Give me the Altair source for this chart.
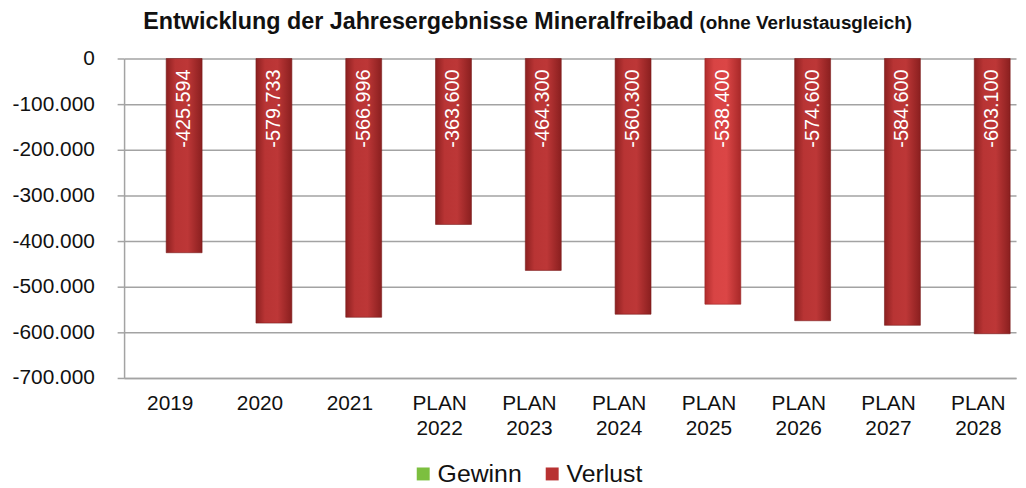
import altair as alt
import pandas as pd

categories = ["2019", "2020", "2021", "PLAN 2022", "PLAN 2023", "PLAN 2024",
              "PLAN 2025", "PLAN 2026", "PLAN 2027", "PLAN 2028"]
values = [-425594, -579733, -566996, -363600, -464300, -560300,
          -538400, -574600, -584600, -603100]
legend_labels = ["Gewinn", "Verlust"]
title_main = "Entwicklung der Jahresergebnisse Mineralfreibad"
title_sub = "(ohne Verlustausgleich)"
highlight = "PLAN 2025"

df = pd.DataFrame({"Jahr": categories, "Wert": values})
FONT = "Liberation Sans"
GRID = "#a3a3a3"

fmt = "(datum.Wert < 0 ? '-' : '') + replace(format(abs(datum.Wert), ',d'), ',', '.')"

x = alt.X("Jahr:N", sort=categories, title=None,
          scale=alt.Scale(paddingInner=0.6, paddingOuter=0.267, align=0.878),
          axis=alt.Axis(labelAngle=0, labelExpr="split(datum.label, ' ')",
                        labelFont=FONT, labelFontSize=21, labelColor="#111111",
                        labelLineHeight=25, labelPadding=15, labelOffset=-14, ticks=False,
                        domain=True, domainColor=GRID, domainWidth=1.5))
y = alt.Y("Wert:Q", title=None,
          scale=alt.Scale(domain=[-700000, 0], nice=False),
          axis=alt.Axis(values=[0, -100000, -200000, -300000, -400000, -500000, -600000, -700000],
                        labelExpr="(datum.value < 0 ? '-' : '') + replace(format(abs(datum.value), ',d'), ',', '.')",
                        labelFont=FONT, labelFontSize=21, labelColor="#111111",
                        labelPadding=23, tickSize=7, tickColor=GRID, tickWidth=1.5,
                        domainColor=GRID, domainWidth=1.5,
                        grid=True, gridColor=GRID, gridWidth=1.5))

dark_grad = alt.Gradient(gradient="linear", x1=0, x2=1, y1=0, y2=0, stops=[
    alt.GradientStop(color="#8c2020", offset=0),
    alt.GradientStop(color="#b83434", offset=0.25),
    alt.GradientStop(color="#bd3737", offset=0.6),
    alt.GradientStop(color="#8a1f1f", offset=1)])
light_grad = alt.Gradient(gradient="linear", x1=0, x2=1, y1=0, y2=0, stops=[
    alt.GradientStop(color="#b02c2c", offset=0),
    alt.GradientStop(color="#d84444", offset=0.25),
    alt.GradientStop(color="#db4646", offset=0.6),
    alt.GradientStop(color="#a82828", offset=1)])

base = alt.Chart(df)

bars = base.transform_filter(f"datum.Jahr != '{highlight}'").mark_bar(
    fill=dark_grad, stroke="#7a1b1b", strokeWidth=0.6).encode(x=x, y=y, y2=alt.datum(0))
bars_hl = base.transform_filter(f"datum.Jahr == '{highlight}'").mark_bar(
    fill=light_grad, stroke="#9a2424", strokeWidth=0.6).encode(x=x, y=y, y2=alt.datum(0))

labels = base.transform_calculate(txt=fmt).mark_text(
    angle=270, align="right", baseline="middle", color="white",
    font=FONT, fontSize=20, yOffset=11).encode(
    x=x, y=alt.datum(0), text="txt:N")

legend_layer = base.transform_calculate(
    Typ="datum.Wert < 0 ? 'Verlust' : 'Gewinn'").mark_square(opacity=0, size=1).encode(
    x=x, y=y,
    color=alt.Color("Typ:N", scale=alt.Scale(domain=legend_labels, range=["#7cbf3f", "#b83232"]),
                    legend=alt.Legend(title=None, orient="none", direction="horizontal",
                                      legendX=289, legendY=406, symbolType="square",
                                      symbolSize=170, symbolOpacity=1, symbolStrokeWidth=0,
                                      labelFont=FONT, labelFontSize=25, labelColor="#111111",
                                      labelOffset=2, columnPadding=18, padding=0)))

tdf = pd.DataFrame({"a": [title_main], "b": [title_sub]})
t1 = alt.Chart(tdf).mark_text(align="right", baseline="alphabetic", font=FONT,
                              fontSize=23.5, fontWeight="bold", color="#111111").encode(
    x=alt.value(574), y=alt.value(-30), text="a:N")
t2 = alt.Chart(tdf).mark_text(align="left", baseline="alphabetic", font=FONT,
                              fontSize=19, fontWeight="bold", color="#111111").encode(
    x=alt.value(580), y=alt.value(-30), text="b:N")

chart = alt.layer(bars, bars_hl, labels, legend_layer, t1, t2).properties(
    width=899, height=322,
    autosize=alt.AutoSizeParams(type="none"),
    padding={"left": 117, "top": 49, "right": 2, "bottom": 108},
    background="white",
).configure_view(stroke=None)

chart.save("out.html", embed_options={"renderer": "svg", "actions": False})
